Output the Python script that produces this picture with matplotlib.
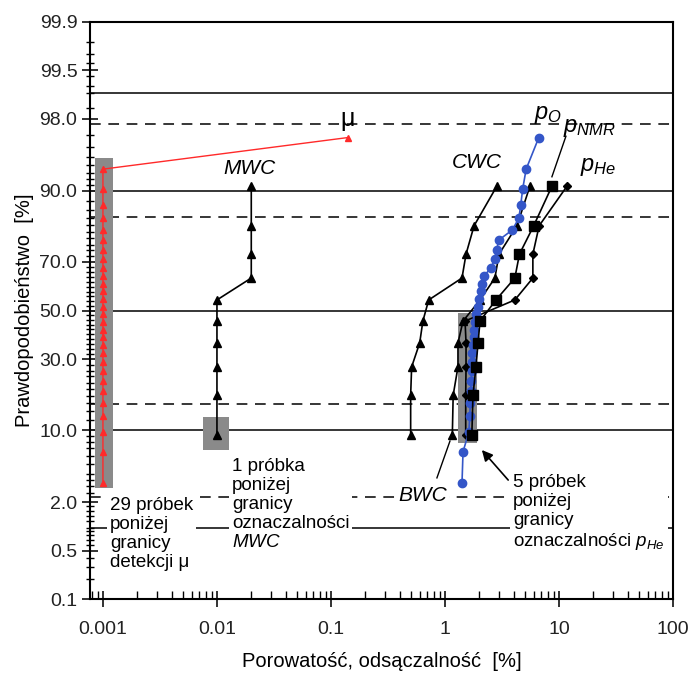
import numpy as np
import matplotlib
matplotlib.use("Agg")
import matplotlib.pyplot as plt
from matplotlib.patches import Rectangle
from statistics import NormalDist

plt.rcParams['font.family'] = ['Liberation Sans', 'DejaVu Sans']
plt.rcParams['mathtext.fontset'] = 'custom'
plt.rcParams['mathtext.rm'] = 'Liberation Sans'
plt.rcParams['mathtext.it'] = 'Liberation Sans:italic'
plt.rcParams['mathtext.bf'] = 'Liberation Sans:bold'

# ---------------- data ----------------
# plotting positions [%]
prob10 = [9.1, 18.2, 27.3, 36.4, 45.5, 54.5, 63.6, 72.7, 81.8, 90.9]
prob30 = [3.2, 6.5, 9.7, 12.9, 16.1, 19.4, 22.6, 25.8, 29.0, 32.3,
          35.5, 38.7, 41.9, 45.2, 48.4, 51.6, 54.8, 58.1, 61.3, 64.5,
          67.7, 71.0, 74.2, 77.4, 80.6, 83.9, 87.1, 90.3, 93.5, 96.8]

mu_x = [0.001, 0.001, 0.001, 0.001, 0.001, 0.001, 0.001, 0.001, 0.001, 0.001,
        0.001, 0.001, 0.001, 0.001, 0.001, 0.001, 0.001, 0.001, 0.001, 0.001,
        0.001, 0.001, 0.001, 0.001, 0.001, 0.001, 0.001, 0.001, 0.001, 0.14]
po_x = [1.41, 1.44, 1.62, 1.65, 1.67, 1.68, 1.70, 1.71, 1.72, 1.74,
        1.76, 1.78, 1.80, 1.83, 1.87, 1.95, 2.00, 2.05, 2.10, 2.20,
        2.55, 2.72, 2.85, 2.95, 3.90, 4.45, 4.62, 4.80, 5.15, 6.65]
mwc_x = [0.01, 0.01, 0.01, 0.01, 0.01, 0.01, 0.02, 0.02, 0.02, 0.02]
cwc_x = [0.50, 0.50, 0.51, 0.60, 0.64, 0.72, 1.41, 1.53, 1.80, 2.86]
bwc_x = [1.16, 1.18, 1.30, 1.30, 1.44, 2.03, 2.74, 2.98, 4.28, 5.57]
pnmr_x = [1.72, 1.76, 1.87, 1.95, 2.03, 2.80, 4.10, 4.50, 6.00, 8.70]
phe_x = [1.52, 1.52, 1.53, 1.53, 1.50, 4.10, 5.90, 5.90, 6.70, 11.8]

solid_levels = [1, 10, 50, 90, 99]
dashed_levels = [2.275, 15.87, 84.13, 97.72]

yticks = [0.1, 0.5, 2.0, 10.0, 30.0, 50.0, 70.0, 90.0, 98.0, 99.5, 99.9]
yticklabels = ['0.1', '0.5', '2.0', '10.0', '30.0', '50.0', '70.0', '90.0', '98.0', '99.5', '99.9']
yminor = [0.2, 0.3, 0.4, 0.6, 0.7, 0.8, 0.9, 1.0, 1.2, 1.4, 1.6, 1.8, 2.5, 3, 3.5, 4, 5, 6, 7, 8, 9,
          12, 14, 16, 18, 20, 22, 24, 26, 28, 32, 34, 36, 38, 40, 42, 44, 46, 48,
          52, 54, 56, 58, 60, 62, 64, 66, 68, 72, 74, 76, 78, 80, 82, 84, 86, 88,
          91, 92, 93, 94, 95, 96, 97, 98.5, 99, 99.2, 99.4, 99.6, 99.7, 99.8]
xticks = [0.001, 0.01, 0.1, 1, 10, 100]
xticklabels = ['0.001', '0.01', '0.1', '1', '10', '100']

# ---------------- probability scale ----------------
_nd = NormalDist()

def _ppf(v):
    if not np.isfinite(v):
        return np.nan
    v = min(max(v, 1e-9), 1 - 1e-9)
    return _nd.inv_cdf(v)

def _cdf(v):
    if not np.isfinite(v):
        return np.nan
    return _nd.cdf(v)

def fwd(p):
    p = np.asarray(p, dtype=float)
    if p.size == 0:
        return p
    return np.array([_ppf(v / 100.0) for v in p.ravel()]).reshape(p.shape)

def inv(z):
    z = np.asarray(z, dtype=float)
    if z.size == 0:
        return z
    return np.array([_cdf(v) * 100.0 for v in z.ravel()]).reshape(z.shape)

fig = plt.figure(figsize=(6.91, 6.73), dpi=100)
ax = fig.add_axes([90/691, 1-599/673, (673-90)/691, (599-22)/673])
ax.set_xscale('log')
ax.set_yscale('function', functions=(fwd, inv))
ax.set_xlim(0.00077, 100)
ax.set_ylim(0.1, 99.9)

# reference lines
for lv in solid_levels:
    ax.axhline(lv, color='black', lw=1.1, zorder=1)
for lv in dashed_levels:
    ax.axhline(lv, color='black', lw=1.1, ls=(0, (7, 5)), zorder=1)

# grey boxes
gray = '#8a8a8a'
ax.add_patch(Rectangle((0.00085, 2.87), 0.00122-0.00085, 94.9-2.87, color=gray, zorder=2, lw=0))
ax.add_patch(Rectangle((0.0075, 6.8), 0.0127-0.0075, 12.7-6.8, color=gray, zorder=2, lw=0))
ax.add_patch(Rectangle((1.30, 7.8), 1.91-1.30, 48.9-7.8, color=gray, zorder=2, lw=0))

# series
ax.plot(mu_x, prob30, color='#ff2a2a', lw=1.0, marker='^', ms=4.5, zorder=5)
ax.plot(mwc_x, prob10, color='black', lw=1.2, marker='^', ms=6, zorder=4)
ax.plot(cwc_x, prob10, color='black', lw=1.2, marker='^', ms=6, zorder=4)
ax.plot(bwc_x, prob10, color='black', lw=1.2, marker='^', ms=6, zorder=4)
ax.plot(phe_x, prob10, color='black', lw=1.2, marker='D', ms=4.5, zorder=4)
ax.plot(po_x, prob30, color='#3456c8', lw=1.2, marker='o', ms=6, zorder=5)
ax.plot(pnmr_x, prob10, color='black', lw=1.2, marker='s', ms=6.5, zorder=6)

# labels of series
ax.text(0.14, 98.0, 'μ', fontsize=18, ha='center', va='center', zorder=7)
ax.text(0.0194, 93.6, 'MWC', fontsize=15, style='italic', ha='center', va='center', zorder=7)
ax.text(1.91, 94.3, 'CWC', fontsize=15, style='italic', ha='center', va='center', zorder=7)
ax.text(8.0, 98.2, r'$p_{O}$', fontsize=17, ha='center', va='center', zorder=7)
ax.text(18.5, 97.5, r'$p_{NMR}$', fontsize=17, ha='center', va='center', zorder=7)
ax.text(22.0, 93.8, r'$p_{He}$', fontsize=17, ha='center', va='center', zorder=7)
ax.plot([11.5, 8.67], [96.9, 92.4], color='black', lw=1.0, zorder=7)

ax.text(0.64, 2.35, 'BWC', fontsize=15, style='italic', ha='center', va='center', zorder=7,
        bbox=dict(facecolor='white', edgecolor='none', pad=1.5))
ax.plot([0.85, 1.106], [3.65, 8.1], color='black', lw=1.0, zorder=7)

box = dict(facecolor='white', edgecolor='none', pad=2)
ax.text(0.00115, 2.29, '29 próbek\nponiżej\ngranicy\ndetekcji μ', fontsize=13.5,
        ha='left', va='top', linespacing=1.15, zorder=7, bbox=box)
ax.text(0.01354, 5.7, '1 próbka\nponiżej\ngranicy\noznaczalności\n$MWC$', fontsize=13.5,
        ha='left', va='top', linespacing=1.15, zorder=7, bbox=box)
ax.text(3.95, 4.0, '5 próbek\nponiżej\ngranicy\noznaczalności $p_{He}$', fontsize=13.5,
        ha='left', va='top', linespacing=1.15, zorder=7, bbox=box)
ax.annotate('', xy=(2.03, 7.05), xytext=(3.72, 3.3),
            arrowprops=dict(arrowstyle='-|>', color='black', lw=1.2, mutation_scale=16),
            zorder=8)

# ticks
ax.set_yticks(yticks)
ax.set_yticklabels(yticklabels)
ax.set_yticks(yminor, minor=True)
ax.set_xticks(xticks)
ax.set_xticklabels(xticklabels)
ax.tick_params(axis='both', which='major', direction='inout', length=12, width=1.3,
               labelsize=14, colors='#222222')
ax.tick_params(axis='y', which='minor', direction='inout', length=6, width=1.0)
ax.tick_params(axis='x', which='minor', direction='in', length=6, width=1.0)
ax.tick_params(axis='y', which='major', pad=3)
ax.tick_params(axis='x', which='major', pad=10)
for s in ax.spines.values():
    s.set_linewidth(1.5)

ax.set_xlabel('Porowatość, odsączalność  [%]', fontsize=14.5, labelpad=10)
ax.set_ylabel('Prawdopodobieństwo  [%]', fontsize=14.5, labelpad=4)

fig.savefig('out.png', dpi=100)
